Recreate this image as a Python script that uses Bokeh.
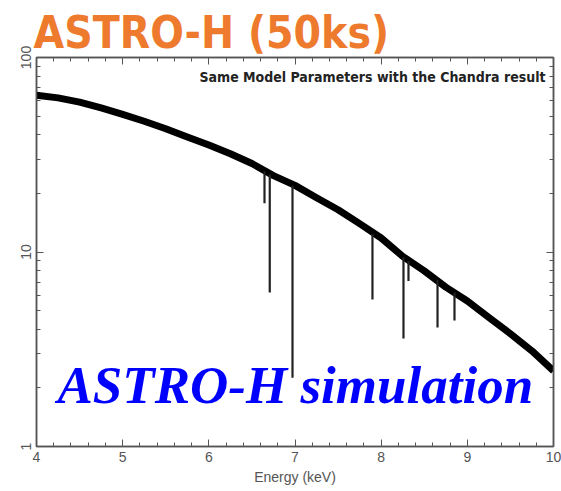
from bokeh.plotting import figure
from bokeh.models import (Label, LinearAxis, LogAxis, SingleIntervalTicker,
                          Range1d, ColumnDataSource, NumeralTickFormatter,
                          CustomJSTickFormatter, Title)
from bokeh.embed import file_html
from bokeh.resources import INLINE

# ---- data ----
cont_energy = [4.0, 4.25, 4.5, 4.75, 5.0, 5.25, 5.5, 5.75, 6.0, 6.25, 6.5, 6.75,
               7.0, 7.25, 7.5, 7.75, 8.0, 8.25, 8.5, 8.75, 9.0, 9.25, 9.5, 9.75, 10.0]
cont_counts = [64, 62, 59, 55, 51, 47, 43, 39, 35.5, 32, 28.5, 24.7,
               22, 19, 16.5, 14, 11.8, 9.5, 8.0, 6.6, 5.6, 4.6, 3.8, 3.1, 2.45]

line_energy = [6.646, 6.707, 6.971, 7.899, 8.259, 8.317, 8.654, 8.851]
line_top = [26.0, 25.0, 22.0, 12.4, 9.4, 9.0, 7.2, 6.2]
line_bottom = [17.8, 6.2, 2.26, 5.7, 3.59, 7.1, 4.09, 4.44]

AXIS_COL = "#555555"

p = figure(width=561, height=491, x_range=Range1d(4, 10), y_range=Range1d(1, 100),
           y_axis_type="log", output_backend="svg", toolbar_location=None,
           min_border_left=36, min_border_right=8, min_border_top=57,
           min_border_bottom=45)
p.background_fill_color = "white"
p.border_fill_color = "white"
p.outline_line_color = AXIS_COL
p.outline_line_width = 1.5
p.xgrid.visible = False
p.ygrid.visible = False

def style_axis(ax):
    ax.axis_line_color = AXIS_COL
    ax.axis_line_width = 1.5
    ax.major_tick_line_color = AXIS_COL
    ax.minor_tick_line_color = AXIS_COL
    ax.major_tick_in = 7
    ax.major_tick_out = 0
    ax.minor_tick_in = 4
    ax.minor_tick_out = 0
    ax.major_label_text_font = "Liberation Sans"
    ax.major_label_text_font_size = "14px"
    ax.major_label_text_color = AXIS_COL

blank = CustomJSTickFormatter(code="return ''")

p.xaxis.ticker = SingleIntervalTicker(interval=1, num_minor_ticks=5)
style_axis(p.xaxis[0])
p.xaxis.axis_label = "Energy (keV)"
p.xaxis.axis_label_text_font = "Liberation Sans"
p.xaxis.axis_label_text_font_style = "normal"
p.xaxis.axis_label_text_font_size = "14px"
p.xaxis.axis_label_text_color = AXIS_COL
p.xaxis.axis_label_standoff = 4
p.xaxis.major_label_standoff = 5

p.yaxis.ticker.num_minor_ticks = 10
p.yaxis.formatter = NumeralTickFormatter(format="0")
style_axis(p.yaxis[0])
p.yaxis.major_label_orientation = "vertical"
p.yaxis.major_label_standoff = 6

top = LinearAxis(ticker=SingleIntervalTicker(interval=1, num_minor_ticks=5), formatter=blank)
style_axis(top)
top.major_label_standoff = 0
p.add_layout(top, "above")
right = LogAxis(formatter=blank)
right.ticker.num_minor_ticks = 10
style_axis(right)
right.major_label_standoff = 0
p.add_layout(right, "right")

# title
p.add_layout(Title(text="ASTRO-H (50ks)", text_font="DejaVu Sans Condensed",
                   text_font_style="bold", text_font_size="44px", text_color="#EE7A2E",
                   text_line_height=0.7, standoff=0, offset=-3, vertical_align="bottom"),
             "above")

# spectrum
src = ColumnDataSource(dict(x=cont_energy, y=cont_counts))
p.line("x", "y", source=src, line_color="black", line_width=7, line_join="round")
p.segment(x0=line_energy, y0=line_top, x1=line_energy, y1=line_bottom,
          line_color="#222222", line_width=2.2)

# texts (screen units, relative to the frame's bottom-left)
p.add_layout(Label(x=509, y=370, x_units="screen", y_units="screen",
                   text="Same Model Parameters with the Chandra result",
                   text_font="DejaVu Sans Condensed", text_font_style="bold",
                   text_font_size="14px", text_color="#222222", text_align="right",
                   text_baseline="alphabetic"))
p.add_layout(Label(x=21, y=62, x_units="screen", y_units="screen",
                   text="ASTRO-H simulation", text_font="Liberation Serif",
                   text_font_style="bold italic", text_font_size="53px", text_color="#0000FF",
                   text_baseline="alphabetic"))

open("out.html", "w").write(file_html(p, INLINE))
